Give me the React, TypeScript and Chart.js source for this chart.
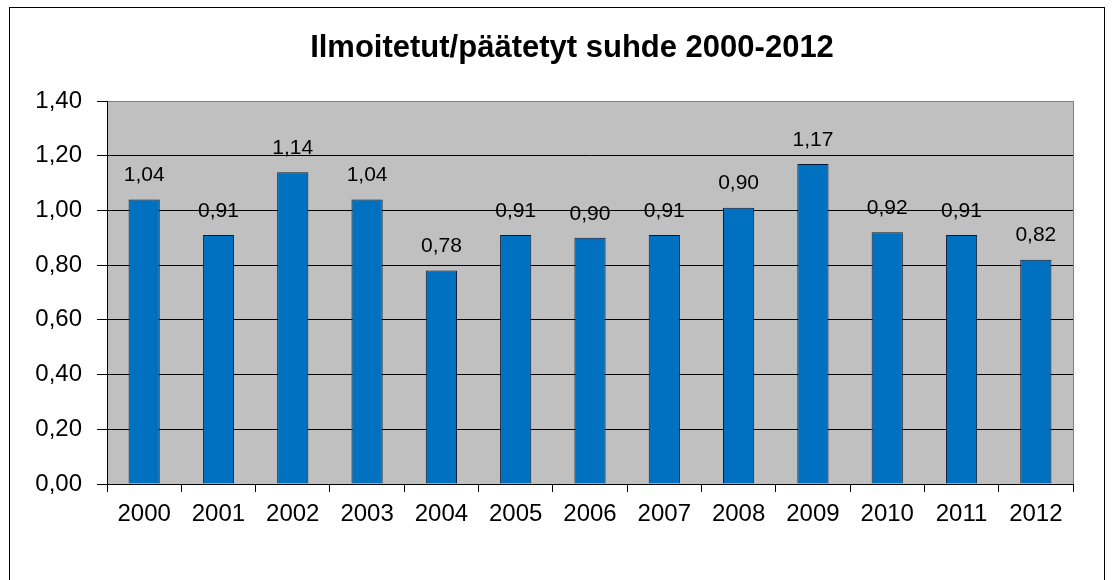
import React, { useEffect, useRef } from "react";
import { Chart, registerables } from "chart.js";

Chart.register(...registerables);

const titleText = "Ilmoitetut/päätetyt suhde 2000-2012";
const years = ["2000", "2001", "2002", "2003", "2004", "2005", "2006", "2007", "2008", "2009", "2010", "2011", "2012"];
const ratioValues = [1.04, 0.91, 1.14, 1.04, 0.78, 0.91, 0.9, 0.91, 1.01, 1.17, 0.92, 0.91, 0.82];
const valueLabels = ["1,04", "0,91", "1,14", "1,04", "0,78", "0,91", "0,90", "0,91", "0,90", "1,17", "0,92", "0,91", "0,82"];
const yTickLabels = ["0,00", "0,20", "0,40", "0,60", "0,80", "1,00", "1,20", "1,40"];

const FONT = '"Liberation Sans", Arial, sans-serif';

export default function App() {
  const canvasRef = useRef<HTMLCanvasElement>(null);

  useEffect(() => {
    if (!canvasRef.current) return;

    const plotBg = {
      id: "plotBg",
      beforeDraw(chart: any) {
        const { ctx, chartArea: a } = chart;
        ctx.save();
        ctx.fillStyle = "#C0C0C0";
        ctx.fillRect(a.left, a.top, a.right - a.left, a.bottom - a.top);
        ctx.restore();
      },
      beforeDatasetsDraw(chart: any) {
        const { ctx, chartArea: a } = chart;
        ctx.save();
        ctx.strokeStyle = "#808080";
        ctx.lineWidth = 1;
        ctx.beginPath();
        ctx.moveTo(Math.round(a.right) + 0.5, a.top);
        ctx.lineTo(Math.round(a.right) + 0.5, a.bottom);
        ctx.stroke();
        ctx.restore();
      },
    };

    const valueLabelPlugin = {
      id: "valueLabels",
      afterDatasetsDraw(chart: any) {
        const { ctx } = chart;
        const meta = chart.getDatasetMeta(0);
        ctx.save();
        ctx.font = `21px ${FONT}`;
        ctx.fillStyle = "#000";
        ctx.textAlign = "center";
        ctx.textBaseline = "middle";
        meta.data.forEach((bar: any, i: number) => {
          ctx.fillText(valueLabels[i], bar.x, bar.y - 24);
        });
        ctx.restore();
      },
    };

    const titlePlugin = {
      id: "customTitle",
      afterDraw(chart: any) {
        const { ctx } = chart;
        ctx.save();
        ctx.font = `bold 31px ${FONT}`;
        ctx.fillStyle = "#000";
        ctx.textAlign = "center";
        ctx.textBaseline = "alphabetic";
        ctx.fillText(titleText, 562, 49);
        ctx.restore();
      },
    };

    const chart = new Chart(canvasRef.current, {
      type: "bar",
      data: {
        labels: years,
        datasets: [
          {
            data: ratioValues,
            backgroundColor: "#0070C0",
            borderColor: "#0B1A33",
            borderWidth: 1,
            barPercentage: 0.42,
            categoryPercentage: 1,
          },
        ],
      },
      options: {
        animation: false,
        responsive: true,
        maintainAspectRatio: false,
        layout: { padding: { top: 93, right: 31, left: 0, bottom: 0 } },
        plugins: {
          legend: { display: false },
          title: { display: false },
          tooltip: { enabled: false },
        },
        scales: {
          x: {
            offset: true,
            grid: {
              offset: true,
              drawOnChartArea: false,
              drawTicks: true,
              tickLength: 8,
              color: "#000",
              tickColor: "#000",
            },
            border: { color: "#000", width: 1 },
            ticks: {
              color: "#000",
              font: { family: FONT, size: 24 },
              padding: 8,
              maxRotation: 0,
              autoSkip: false,
            },
            afterFit: (s: any) => {
              s.height = 96;
            },
          },
          y: {
            min: 0,
            max: 1.4,
            ticks: {
              stepSize: 0.2,
              color: "#000",
              font: { family: FONT, size: 24 },
              padding: 15,
              callback: (v: any, i: number) =>
                yTickLabels[i] !== undefined ? yTickLabels[i] : Number(v).toFixed(2).replace(".", ","),
            },
            grid: {
              color: (c: any) => (c.tick && Math.abs(c.tick.value - 1.4) < 1e-6 ? "#808080" : "#000"),
              tickColor: "#000",
              tickLength: 10,
              lineWidth: 1,
            },
            border: { color: "#000", width: 1 },
            afterFit: (s: any) => {
              s.width = 97;
            },
          },
        },
      },
      plugins: [plotBg, valueLabelPlugin, titlePlugin],
    });

    return () => chart.destroy();
  }, []);

  return (
    <div
      style={{
        position: "absolute",
        left: 9,
        top: 7,
        width: 1096,
        height: 573,
        boxSizing: "border-box",
        border: "1px solid #000",
        borderBottom: "none",
        background: "#fff",
      }}
    >
      <div style={{ position: "relative", width: 1094, height: 572 }}>
        <canvas ref={canvasRef} />
      </div>
    </div>
  );
}
